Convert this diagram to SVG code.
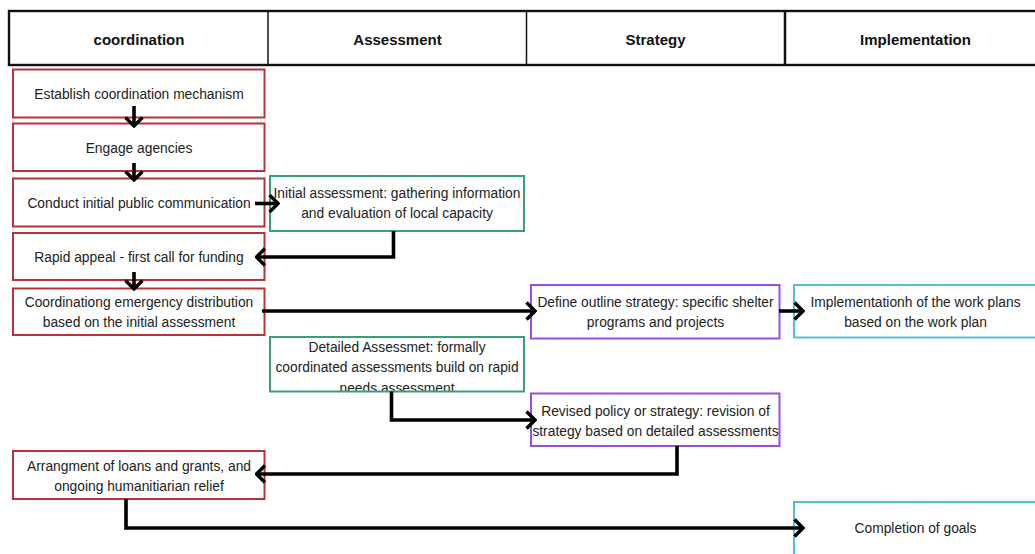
<svg xmlns="http://www.w3.org/2000/svg" width="1035" height="554" viewBox="0 0 1035 554">
<defs>
<style>
.hdr{font-family:"Liberation Sans",Arial,sans-serif;font-size:15px;font-weight:bold;fill:#111;text-anchor:middle}
.t{font-family:"Liberation Sans",Arial,sans-serif;font-size:13.8px;fill:#222;text-anchor:middle}
.red{fill:#fff;stroke:#b8323a;stroke-width:2}
.green{fill:#fff;stroke:#3a9e7a;stroke-width:2}
.purple{fill:#fff;stroke:#9a4de0;stroke-width:2}
.cyan{fill:#fff;stroke:#56c0d8;stroke-width:2}
.c{fill:none;stroke:#000;stroke-width:3.6;marker-end:url(#ah)}
</style>
<marker id="ah" viewBox="0 0 12 20" refX="10" refY="10" markerWidth="12" markerHeight="20" markerUnits="userSpaceOnUse" orient="auto">
<path d="M1.5,1.5 L10,10 L1.5,18.5" fill="none" stroke="#000" stroke-width="3.4"/>
</marker>
<clipPath id="g2clip"><rect x="270" y="337" width="254" height="54.5"/></clipPath>
</defs>
<rect width="1035" height="554" fill="#fff"/>
<g id="header">
<rect x="9" y="11" width="1035" height="54" fill="#fff" stroke="#111" stroke-width="2.4"/>
<line x1="268" y1="11" x2="268" y2="65" stroke="#111" stroke-width="1.5"/>
<line x1="526.5" y1="11" x2="526.5" y2="65" stroke="#111" stroke-width="1.5"/>
<line x1="785" y1="11" x2="785" y2="65" stroke="#111" stroke-width="2.5"/>
<text class="hdr" x="139" y="44.5">coordination</text>
<text class="hdr" x="397.5" y="44.5">Assessment</text>
<text class="hdr" x="655.5" y="44.5">Strategy</text>
<text class="hdr" x="915.5" y="44.5">Implementation</text>
</g>
<g id="n1"><rect class="red" x="13" y="69.5" width="251.5" height="48"/><text class="t" x="139" y="98.5">Establish coordination mechanism</text></g>
<g id="n2"><rect class="red" x="13" y="123.5" width="251.5" height="47.5"/><text class="t" x="139" y="153">Engage agencies</text></g>
<g id="n3"><rect class="red" x="13" y="178.5" width="251.5" height="48"/><text class="t" x="139" y="207.5">Conduct initial public communication</text></g>
<g id="n4"><rect class="red" x="13" y="233" width="251.5" height="47"/><text class="t" x="139" y="261.5">Rapid appeal - first call for funding</text></g>
<g id="n5"><rect class="red" x="13" y="288.5" width="251.5" height="46.5"/><text class="t" x="139" y="307">Coordinationg emergency distribution</text><text class="t" x="139" y="327">based on the initial assessment</text></g>
<g id="n6"><rect class="red" x="13" y="451" width="251.5" height="48"/><text class="t" x="139" y="470.5">Arrangment of loans and grants, and</text><text class="t" x="139" y="490.5">ongoing humanitiarian relief</text></g>
<g id="g1"><rect class="green" x="270" y="176" width="254" height="55"/><text class="t" x="397" y="197.5">Initial assessment: gathering information</text><text class="t" x="397" y="218">and evaluation of local capacity</text></g>
<g id="g2"><g clip-path="url(#g2clip)"><text class="t" x="397" y="351.5">Detailed Assessmet: formally</text><text class="t" x="397" y="372">coordinated assessments build on rapid</text><text class="t" x="397" y="392.5">needs assessment</text></g><rect x="270" y="337" width="254" height="54.5" fill="none" stroke="#3a9e7a" stroke-width="2"/></g>
<g id="p1"><rect class="purple" x="531" y="285" width="248.5" height="53.5"/><text class="t" x="655.5" y="306.5">Define outline strategy: specific shelter</text><text class="t" x="655.5" y="326.5">programs and projects</text></g>
<g id="p2"><rect class="purple" x="531" y="393.5" width="248.5" height="52.5"/><text class="t" x="655.5" y="415.5">Revised policy or strategy: revision of</text><text class="t" x="655.5" y="436">strategy based on detailed assessments</text></g>
<g id="c1"><rect class="cyan" x="794" y="285" width="250" height="52.5"/><text class="t" x="915.5" y="306.5">Implementationh of the work plans</text><text class="t" x="915.5" y="326.5">based on the work plan</text></g>
<g id="c2"><rect class="cyan" x="794" y="502" width="250" height="55"/><text class="t" x="915.5" y="533">Completion of goals</text></g>
<g id="connectors">
<path class="c" d="M134,106 V126"/>
<path class="c" d="M134,163 V180"/>
<path class="c" d="M255,203.5 H278"/>
<path class="c" d="M393.5,231 V257 H256.5"/>
<path class="c" d="M134,272 V289"/>
<path class="c" d="M262,311 H535"/>
<path class="c" d="M779,311 H803"/>
<path class="c" d="M391.5,391.5 V420 H535"/>
<path class="c" d="M677,446 V474 H256.5"/>
<path class="c" d="M126,499 V528 H803"/>
</g>
</svg>
